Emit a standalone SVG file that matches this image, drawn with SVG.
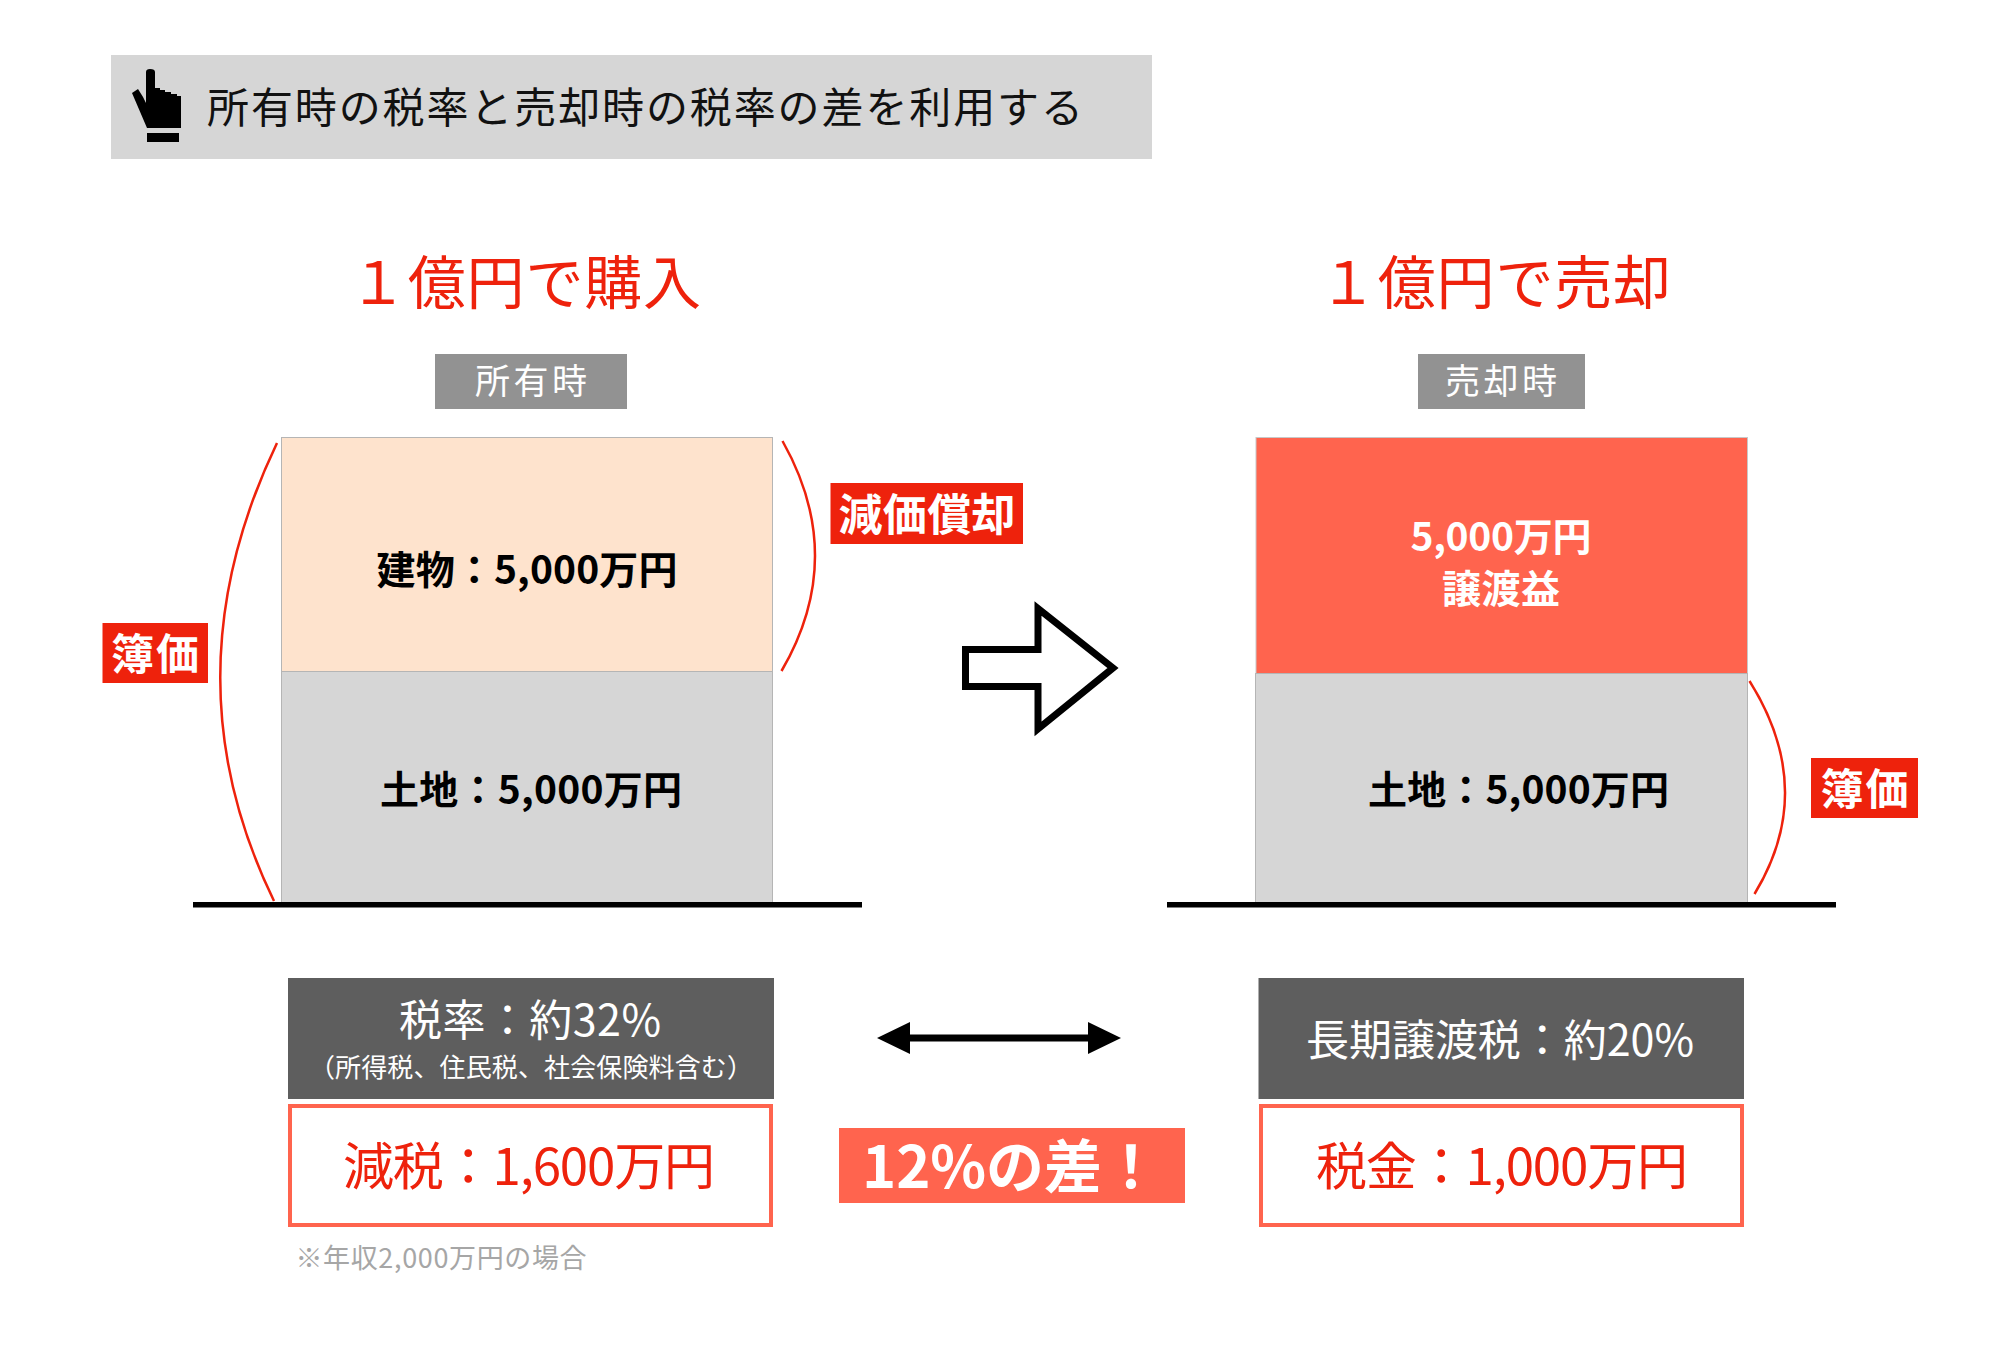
<svg xmlns="http://www.w3.org/2000/svg" width="1999" height="1345" viewBox="0 0 1999 1345">
<defs><style>
text{font-family:"Noto Sans CJK JP","Noto Sans",sans-serif;text-anchor:middle}
.b{font-weight:700}
.w{fill:#fff}.r{fill:#EE220C}.k{fill:#000}
.arc{fill:none;stroke:#EE220C;stroke-width:2.5}
.tag{fill:#EE220C}
.bx{stroke:#B5B5B5;stroke-width:1}
.dark{fill:#5E5E5E}
.out{fill:#fff;stroke:#FF644E;stroke-width:4}
</style></defs>
<rect width="1999" height="1345" fill="#fff"/>
<g id="header">
<rect x="111" y="55" width="1041" height="104" fill="#D6D6D6"/>
<path d="M146 72Q146 69 150 69Q155 69 155 72V88H160V90H165V92H171V94H177V96H181V128H147L132 93L138 89L143 97L146 103Z" fill="#000"/>
<rect x="147" y="133" width="32" height="9" fill="#000"/>
<text x="645" y="123" font-size="42" textLength="876" fill="#111">所有時の税率と売却時の税率の差を利用する</text>
</g>
<g id="title-left"><text class="r" x="525" y="304" font-size="58" textLength="352">１億円で購入</text></g>
<g id="title-right"><text class="r" x="1495" y="304" font-size="58" textLength="352">１億円で売却</text></g>
<g id="tag-own"><rect x="435" y="354" width="192" height="55" fill="#929292"/><text class="w" x="531" y="394" font-size="35" textLength="112">所有時</text></g>
<g id="tag-sale"><rect x="1418" y="354" width="167" height="55" fill="#929292"/><text class="w" x="1501" y="394" font-size="35" textLength="112">売却時</text></g>
<g id="building"><rect class="bx" x="281.500" y="437.500" width="491" height="234" fill="#FEE3CD"/><text class="b k" x="527" y="584" font-size="39" textLength="301">建物：5,000万円</text></g>
<g id="land-left"><rect class="bx" x="281.500" y="671.500" width="491" height="231" fill="#D6D6D6"/><text class="b k" x="531" y="804" font-size="39" textLength="302">土地：5,000万円</text></g>
<g id="gain"><rect x="1256" y="437.500" width="491.500" height="236" fill="#FF644E" stroke="#C8C8C8" stroke-width="1"/><text class="b w" x="1501" y="551" font-size="39" textLength="181">5,000万円</text><text class="b w" x="1501" y="603" font-size="39" textLength="118">譲渡益</text></g>
<g id="land-right"><rect class="bx" x="1255.500" y="673.500" width="492" height="229" fill="#D6D6D6"/><text class="b k" x="1518.500" y="804" font-size="39" textLength="301">土地：5,000万円</text></g>
<g id="tag-book-left"><rect class="tag" x="102.500" y="623" width="105.500" height="60"/><text class="b w" x="155" y="670" font-size="43" textLength="88">簿価</text></g>
<g id="tag-depr"><rect class="tag" x="830.500" y="483" width="192.500" height="61"/><text class="b w" x="927" y="531" font-size="44" textLength="177">減価償却</text></g>
<g id="tag-book-right"><rect class="tag" x="1811" y="758" width="107" height="60"/><text class="b w" x="1864.500" y="805" font-size="43" textLength="88">簿価</text></g>
<g id="rate-left"><rect class="dark" x="288" y="978" width="486" height="121"/><text class="w" x="530" y="1036" font-size="43" textLength="262">税率：約32%</text><text class="w" x="531" y="1077" font-size="26" textLength="444">（所得税、住民税、社会保険料含む）</text></g>
<g id="rate-right"><rect class="dark" x="1258.500" y="978" width="485.500" height="121"/><text class="w" x="1500" y="1056" font-size="43" textLength="388">長期譲渡税：約20%</text></g>
<g id="tax-left"><rect class="out" x="290" y="1106" width="481" height="119"/><text class="r" x="529" y="1185" font-size="51" textLength="372">減税：1,600万円</text></g>
<g id="tax-right"><rect class="out" x="1261" y="1106" width="481" height="119"/><text class="r" x="1502" y="1185" font-size="51" textLength="372">税金：1,000万円</text></g>
<g id="diff"><rect x="839" y="1128" width="346" height="75" fill="#FF644E"/><text class="b w" x="1011" y="1188" font-size="58" textLength="298">12%の差！</text></g>
<g id="note"><text x="441" y="1268" font-size="27" textLength="291" fill="#A6A6A6">※年収2,000万円の場合</text></g>
<g id="connectors">
<path class="arc" d="M277 443Q165 677 274 901"/>
<path class="arc" d="M782.500 441Q848 557 781.500 671"/>
<path class="arc" d="M1749.500 681Q1818 790 1754.500 894"/>
<rect x="193" y="902" width="669" height="5.500" fill="#000"/>
<rect x="1167" y="902" width="669" height="5.500" fill="#000"/>
<path d="M965.500 649.500H1038V608.500L1113 668L1038 729V686.500H965.500Z" fill="#fff" stroke="#000" stroke-width="7"/>
<path d="M877 1038L910 1022V1034.500H1088V1022L1121 1038L1088 1054V1041.500H910V1054Z" fill="#000"/>
</g>
</svg>
